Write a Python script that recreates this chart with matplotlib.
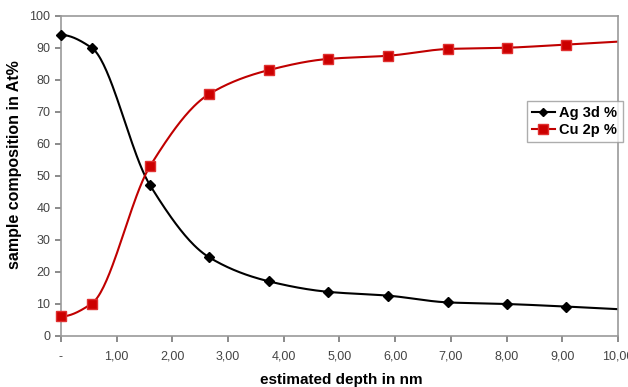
import numpy as np
import matplotlib
matplotlib.use("Agg")
import matplotlib.pyplot as plt

plt.rcParams["font.family"] = ["Liberation Sans", "DejaVu Sans"]

# Data
depth = [0.0, 0.55, 1.60, 2.66, 3.73, 4.80, 5.88, 6.95, 8.01, 9.07, 10.1]
ag = [94.0, 90.0, 47.0, 24.5, 17.0, 13.7, 12.5, 10.4, 9.9, 9.1, 8.2]
cu = [6.0, 10.0, 53.0, 75.5, 83.0, 86.5, 87.5, 89.6, 90.0, 91.0, 92.0]
labels = ["Ag 3d %", "Cu 2p %"]
xticks = [0, 1, 2, 3, 4, 5, 6, 7, 8, 9, 10]
xticklabels = ["-", "1,00", "2,00", "3,00", "4,00", "5,00", "6,00", "7,00", "8,00", "9,00", "10,00"]
yticks = [0, 10, 20, 30, 40, 50, 60, 70, 80, 90, 100]


def smooth(x, y, n=40):
    # monotone cubic (Fritsch-Carlson) smoothing for drawing the line
    x = np.asarray(x, float); y = np.asarray(y, float)
    h = np.diff(x); d = np.diff(y) / h
    m = np.zeros_like(y)
    m[0] = d[0]; m[-1] = d[-1]
    for i in range(1, len(y) - 1):
        if d[i - 1] * d[i] <= 0:
            m[i] = 0
        else:
            w1 = 2 * h[i] + h[i - 1]; w2 = h[i] + 2 * h[i - 1]
            m[i] = (w1 + w2) / (w1 / d[i - 1] + w2 / d[i])
    m[0] = 0.0 if abs(d[0]) < 8 else d[0]
    xs, ys = [], []
    for i in range(len(h)):
        t = np.linspace(0, 1, n)
        h00 = 2 * t**3 - 3 * t**2 + 1; h10 = t**3 - 2 * t**2 + t
        h01 = -2 * t**3 + 3 * t**2; h11 = t**3 - t**2
        xs.append(x[i] + t * h[i])
        ys.append(h00 * y[i] + h10 * h[i] * m[i] + h01 * y[i + 1] + h11 * h[i] * m[i + 1])
    return np.concatenate(xs), np.concatenate(ys)


fig = plt.figure(figsize=(6.28, 3.87), dpi=100)
ax = fig.add_axes([0.097, 0.1326, 0.887, 0.8268])

black = "#000000"
red = "#C00000"

sx, sy = smooth(depth, ag)
ax.plot(sx, sy, color=black, lw=1.5, zorder=2)
ax.plot(depth[:-1], ag[:-1], ls="none", marker="D", ms=5, color=black, zorder=3, clip_on=False)
sx, sy = smooth(depth, cu)
ax.plot(sx, sy, color=red, lw=1.5, zorder=2)
ax.plot(depth[:-1], cu[:-1], ls="none", marker="s", ms=7, color="#CC0000",
        markeredgecolor="#E03030", zorder=3, clip_on=False)

# legend handles
h1, = ax.plot([], [], color=black, lw=1.5, marker="D", ms=4.5)
h2, = ax.plot([], [], color=red, lw=1.5, marker="s", ms=6.5, markerfacecolor="#CC0000",
              markeredgecolor="#E03030")
leg = ax.legend([h1, h2], labels, loc="upper left", bbox_to_anchor=(0.836, 0.735),
                frameon=True, fancybox=False, prop={"weight": "bold", "size": 10.5},
                handlelength=1.6, handletextpad=0.3, borderpad=0.35, labelspacing=0.25,
                borderaxespad=0)
leg.get_frame().set_edgecolor("#999999")
leg.get_frame().set_linewidth(1.0)

ax.set_xlim(0, 10)
ax.set_ylim(0, 100)
ax.set_xticks(xticks)
ax.set_xticklabels(xticklabels)
ax.set_yticks(yticks)
ax.tick_params(axis="both", colors="#777777", labelcolor="#444444", labelsize=9,
               length=4, width=1.2, direction="out")
ax.tick_params(axis="x", pad=7)
for s in ax.spines.values():
    s.set_color("#999999")
    s.set_linewidth(1.2)

ax.set_xlabel("estimated depth in nm", fontsize=11, fontweight="bold")
ax.set_ylabel("sample composition in At%", fontsize=11.5, fontweight="bold")
ax.xaxis.set_label_coords(0.503, -0.118)
ax.yaxis.set_label_coords(-0.07, 0.535)

fig.savefig("out.png", dpi=100)
